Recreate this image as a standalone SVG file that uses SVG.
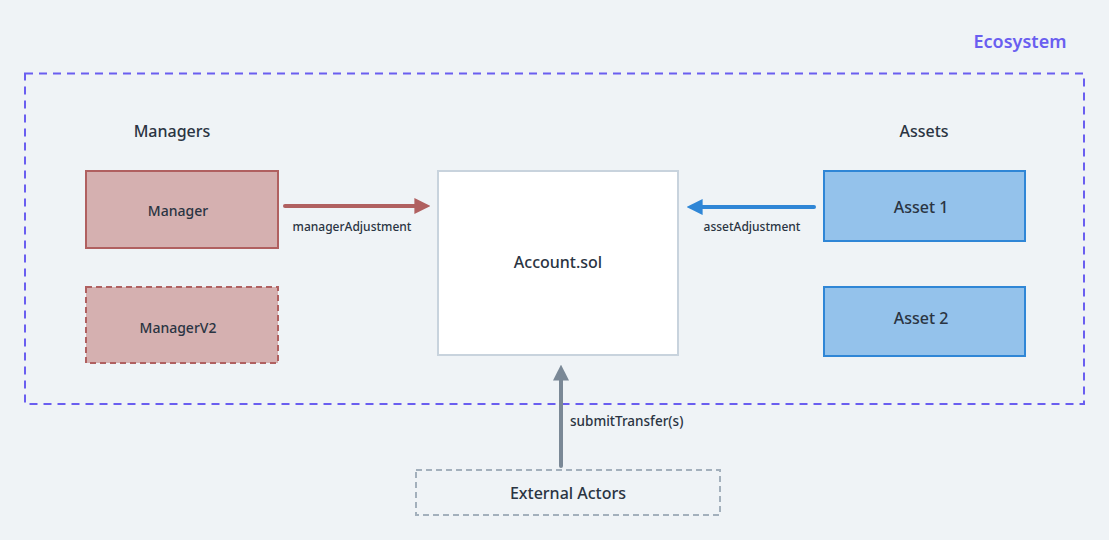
<svg xmlns="http://www.w3.org/2000/svg" width="1109" height="540" viewBox="0 0 1109 540">
<style>
text{font-family:"Noto Sans","Liberation Sans",sans-serif;fill:#2a3442;font-weight:500}
.lbl{font-size:12px}
.mgr{fill:#d5b0b0;stroke:#b06060;stroke-width:2}
.ast{fill:#94c2eb;stroke:#2f86d6;stroke-width:2}
</style>
<defs>
<marker id="am" viewBox="0 0 10 10" refX="6" refY="5" markerWidth="4" markerHeight="4" orient="auto" markerUnits="strokeWidth"><path d="M0,0L10,5L0,10z" fill="#b06060"/></marker>
<marker id="aa" viewBox="0 0 10 10" refX="6" refY="5" markerWidth="4" markerHeight="4" orient="auto" markerUnits="strokeWidth"><path d="M0,0L10,5L0,10z" fill="#2f86d6"/></marker>
<marker id="ag" viewBox="0 0 10 10" refX="6" refY="5" markerWidth="4" markerHeight="4" orient="auto" markerUnits="strokeWidth"><path d="M0,0L10,5L0,10z" fill="#7a8896"/></marker>
</defs>
<rect width="1109" height="540" fill="#eff3f6"/>
<g id="ecosystem">
<rect x="25" y="73.5" width="1059" height="330.5" fill="none" stroke="#6a5ef0" stroke-width="2" stroke-dasharray="8,6"/>
<text x="1020" y="48" font-size="18" text-anchor="middle" style="fill:#6a5ef0;font-weight:600">Ecosystem</text>
</g>
<g id="managers-label"><text x="172" y="137" font-size="16" text-anchor="middle">Managers</text></g>
<g id="assets-label"><text x="924" y="137" font-size="16" text-anchor="middle">Assets</text></g>
<g id="manager">
<rect class="mgr" x="86" y="171" width="192" height="77"/>
<text x="178" y="216" font-size="14" text-anchor="middle">Manager</text>
</g>
<g id="managerv2">
<rect class="mgr" x="86" y="287" width="192" height="76" stroke-dasharray="6,4"/>
<text x="178" y="333" font-size="14" text-anchor="middle">ManagerV2</text>
</g>
<g id="account">
<rect x="438" y="171" width="240" height="184" fill="#ffffff" stroke="#c8d3dd" stroke-width="2"/>
<text x="558" y="268" font-size="16" text-anchor="middle">Account.sol</text>
</g>
<g id="asset1">
<rect class="ast" x="824" y="171" width="201" height="70"/>
<text x="921" y="213" font-size="16" text-anchor="middle">Asset 1</text>
</g>
<g id="asset2">
<rect class="ast" x="824" y="287" width="201" height="69"/>
<text x="921" y="324" font-size="16" text-anchor="middle">Asset 2</text>
</g>
<g id="external">
<rect x="416" y="470" width="304" height="45" fill="none" stroke="#a3b0bc" stroke-width="2" stroke-dasharray="6,4"/>
<text x="568" y="499" font-size="16" text-anchor="middle">External Actors</text>
</g>
<g id="connectors">
<line x1="285" y1="206" x2="424" y2="206" stroke="#b06060" stroke-width="4" stroke-linecap="round" marker-end="url(#am)"/>
<text class="lbl" x="352" y="231" text-anchor="middle">managerAdjustment</text>
<line x1="814" y1="207" x2="693" y2="207" stroke="#2f86d6" stroke-width="4" stroke-linecap="round" marker-end="url(#aa)"/>
<text class="lbl" x="752" y="231" text-anchor="middle">assetAdjustment</text>
<line x1="561" y1="466" x2="561" y2="371" stroke="#7a8896" stroke-width="4" stroke-linecap="round" marker-end="url(#ag)"/>
<text x="570" y="426" font-size="13.5">submitTransfer(s)</text>
</g>
</svg>
